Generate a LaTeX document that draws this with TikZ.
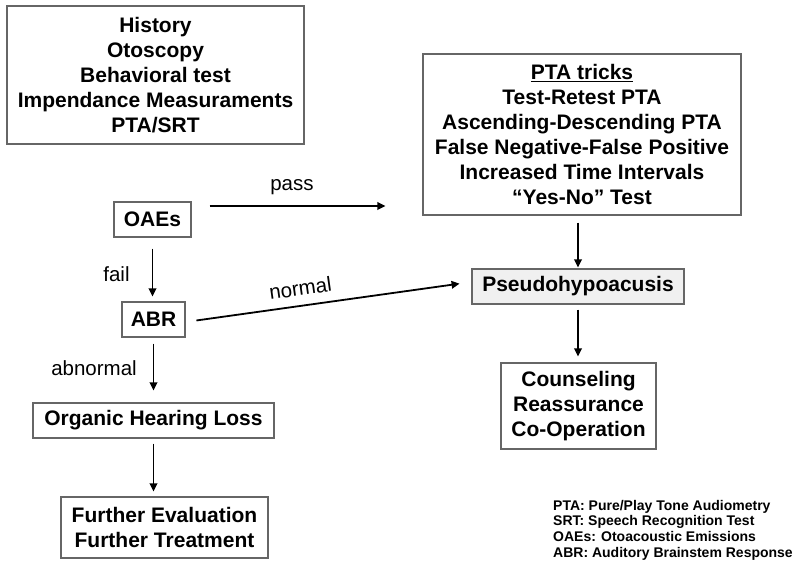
\documentclass[tikz,border=0pt]{standalone}
\usepackage{fontspec}
\setmainfont{Liberation Sans}
\usepackage{tikz}
\usetikzlibrary{arrows.meta, positioning}

\begin{document}
\begin{tikzpicture}[x=1pt, y=-1pt,
		box/.style={draw=black!60, line width=1.1pt, inner sep=0pt, align=center,
			font=\fontsize{21}{25}\selectfont\bfseries},
		lbl/.style={font=\fontsize{20.5}{24}\selectfont},
		arr/.style={-{Triangle[length=8pt,width=7.5pt]}, line width=1.8pt}]
		\useasboundingbox (0,0) rectangle (798,561);
		
		\node[box, minimum width=297pt, minimum height=138pt]      (exam)     at (155.5,75)  {History\\Otoscopy\\Behavioral test\\Impendance Measuraments\\PTA/SRT};
		\node[box, minimum width=77pt, minimum height=35pt]        (oaes)     at (152.5,219.5) {OAEs};
		\node[box, minimum width=63pt, minimum height=35pt]        (abr)      at (153.5,319.5) {ABR};
		\node[box, minimum width=241pt, minimum height=35pt]       (organic)  at (153.5,420.5) {Organic Hearing Loss};
		\node[box, minimum width=207pt, minimum height=61pt]       (further)  at (164.5,527.5) {Further Evaluation\\Further Treatment};
		\node[box, minimum width=318pt, minimum height=161pt]      (tricks)   at (582,134.5) {\underline{PTA tricks}\\Test-Retest PTA\\Ascending-Descending PTA\\False Negative-False Positive\\Increased Time Intervals\\“Yes-No” Test};
		\node[box, fill=black!6, minimum width=212pt, minimum height=35pt] (pseudo) at (578,286.5) {Pseudohypoacusis};
		\node[box, minimum width=155pt, minimum height=86pt]       (counsel)  at (578.5,406) {Counseling\\Reassurance\\Co-Operation};
		
		% abbreviations
		\node[anchor=north west, inner sep=0pt, align=left,
			font=\fontsize{14}{15.6}\selectfont\bfseries]          (abbr)     at (553,500) {PTA: Pure/Play Tone Audiometry\\SRT: Speech Recognition Test\\OAEs: Otoacoustic Emissions\\ABR: Auditory Brainstem Response};
		
		\node[lbl] (pass)     at (292,187)   {pass};
		\node[lbl] (fail)     at (116.5,274) {fail};
		\node[lbl] (abnormal) at (94,368)    {abnormal};
		
		\draw[arr, shorten <=18pt, shorten >=37pt] ([yshift=13.5pt]oaes.east) -- ([yshift=13.5pt]oaes.east -| tricks.west);
		\draw[arr, shorten <=11pt, shorten >=5pt] (oaes.south) -- (oaes.south |- abr.north);
		\draw[arr, shorten <=6pt, shorten >=12pt] (abr.south) -- (abr.south |- organic.north);
		\draw[arr, shorten <=5pt, shorten >=5pt] (organic.south) -- (organic.south |- further.north);
		\draw[arr, shorten <=11pt, shorten >=12pt] ([yshift=-2.5pt]abr.east) -- ([yshift=4.5pt]pseudo.west)
			node[lbl, sloped, above=6pt, pos=0.41] (normal) {normal};
		\draw[arr, shorten <=7pt, shorten >=1pt] (tricks.south -| pseudo.north) -- (pseudo.north);
		\draw[arr, shorten <=5pt, shorten >=6pt] (pseudo.south) -- (pseudo.south |- counsel.north);
	\end{tikzpicture}
\end{document}
